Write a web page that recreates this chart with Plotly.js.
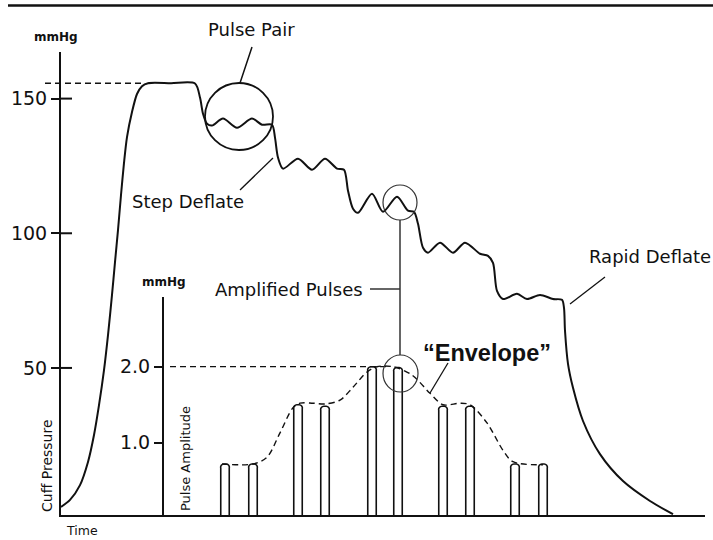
<!DOCTYPE html>
<html>
<head>
<meta charset="utf-8">
<script src="https://cdn.plot.ly/plotly-3.0.1.min.js"></script>
<style>html,body{margin:0;padding:0;background:#fff;}</style>
</head>
<body>
<div id="chart" style="width:713px;height:540px;"></div>
<script>
// ---- Data ----
const time = [0.0, 0.9, 1.9, 2.7, 3.3, 3.8, 4.3, 4.7, 5.1, 5.4, 5.7, 6.0, 6.3, 6.6, 7.1, 7.6, 8.1, 8.7, 11.0, 13.4, 13.9, 14.2, 14.6, 15.1, 16.2, 17.6, 19.1, 20.1, 21.1, 21.4, 21.7, 22.2, 23.7, 25.1, 26.4, 27.6, 28.3, 28.7, 29.2, 29.7, 31.1, 32.2, 33.6, 34.7, 35.3, 35.7, 36.2, 36.7, 37.9, 39.2, 40.4, 41.9, 42.7, 43.2, 43.6, 44.2, 45.6, 46.6, 47.9, 49.2, 50.1, 50.3, 50.4, 50.7, 51.2, 52.2, 53.9, 56.2, 58.9, 61.2];
const cuffPressure = [-1.6, 1.0, 6.5, 15.1, 25.1, 36.2, 49.2, 62.2, 77.1, 89.3, 101.2, 114.2, 126.1, 135.7, 145.0, 151.7, 154.6, 155.7, 155.7, 155.6, 150.4, 144.4, 140.7, 140.0, 142.6, 139.2, 142.6, 140.3, 140.3, 135.5, 128.1, 124.0, 127.7, 123.6, 127.7, 124.0, 123.6, 115.8, 109.1, 107.6, 114.7, 108.0, 113.6, 108.4, 108.0, 103.5, 94.6, 92.8, 96.5, 92.8, 96.5, 92.4, 91.6, 89.0, 78.6, 75.6, 77.5, 75.6, 77.1, 75.6, 75.3, 72.3, 63.8, 51.5, 42.6, 30.3, 18.0, 8.0, 0.6, -4.3];

const pulseTime = [16.4, 19.2, 23.7, 26.4, 31.1, 33.7, 38.2, 40.9, 45.4, 48.2];
const pulseAmplitude = [0.72, 0.72, 1.50, 1.48, 2.00, 1.99, 1.48, 1.48, 0.72, 0.72];

const envelopeTime = [16.1, 19.2, 20.6, 21.9, 23.2, 23.9, 25.2, 26.4, 27.9, 29.2, 30.6, 31.6, 33.2, 35.1, 36.9, 38.2, 39.9, 40.9, 42.6, 44.2, 45.2, 48.2];
const envelopeAmplitude = [0.72, 0.72, 0.81, 1.13, 1.46, 1.52, 1.52, 1.51, 1.56, 1.73, 1.93, 2.00, 2.00, 1.89, 1.65, 1.50, 1.52, 1.50, 1.26, 0.90, 0.75, 0.71];

const pressureTicks = [50, 100, 150];
const pressureTickLabels = ['50', '100', '150'];
const amplitudeTicks = [1, 2];
const amplitudeTickLabels = ['1.0', '2.0'];

// ---- Layout helpers (pixel -> paper) ----
const L = 61, R = 705, T = 52, B = 515;
const W = R - L, H = B - T;
const px = x => (x - L) / W;
const py = y => (B - y) / H;

const FONT = '"DejaVu Sans", sans-serif';
const INK = '#111';

const plateau = Math.max(...cuffPressure);
const peakAmp = Math.max(...pulseAmplitude);

const traces = [
  {
    type: 'scatter', mode: 'lines', x: time, y: cuffPressure,
    xaxis: 'x', yaxis: 'y',
    line: {color: INK, width: 2, shape: 'spline', smoothing: 0.8},
    hoverinfo: 'skip', showlegend: false, cliponaxis: false
  },
  {
    type: 'bar', x: pulseTime, y: pulseAmplitude, xaxis: 'x', yaxis: 'y2',
    width: 0.85,
    marker: {color: '#fff', line: {color: INK, width: 1.6}, cornerradius: 3.5},
    hoverinfo: 'skip', showlegend: false
  },
  {
    type: 'scatter', mode: 'lines', x: envelopeTime, y: envelopeAmplitude,
    xaxis: 'x', yaxis: 'y2',
    line: {color: INK, width: 1.4, dash: '6px,4px', shape: 'spline', smoothing: 0.9},
    hoverinfo: 'skip', showlegend: false
  }
];

const shapes = [];
// top border rule
shapes.push({type: 'line', xref: 'paper', yref: 'paper', x0: px(8), x1: px(713), y0: py(5.5), y1: py(5.5), line: {color: INK, width: 2.5}});
// plateau dashed reference
shapes.push({type: 'line', xref: 'paper', yref: 'y', x0: px(45), x1: px(145), y0: plateau, y1: plateau, line: {color: INK, width: 1.3, dash: '6px,4px'}});
// inside part of main ticks (ticks cross the axis)
pressureTicks.forEach(v => shapes.push({type: 'line', xref: 'paper', yref: 'y', x0: 0, x1: px(72), y0: v, y1: v, line: {color: INK, width: 2}}));
// dashed line at peak amplitude
shapes.push({type: 'line', xref: 'paper', yref: 'y2', x0: px(170), x1: px(390), y0: peakAmp, y1: peakAmp, line: {color: INK, width: 1.3, dash: '6px,4px'}});
// circles
shapes.push({type: 'circle', xref: 'paper', yref: 'paper', x0: px(205), x1: px(273), y0: py(150), y1: py(83), line: {color: INK, width: 1.8}});
shapes.push({type: 'circle', xref: 'paper', yref: 'paper', x0: px(383), x1: px(417), y0: py(220), y1: py(185), line: {color: '#333', width: 1.2}});
shapes.push({type: 'circle', xref: 'paper', yref: 'paper', x0: px(383), x1: px(418), y0: py(392), y1: py(355), line: {color: '#333', width: 1.2}});
// connector between circles + Amplified Pulses leader
shapes.push({type: 'line', xref: 'paper', yref: 'paper', x0: px(400), x1: px(400), y0: py(220), y1: py(355), line: {color: '#333', width: 1.5}});
shapes.push({type: 'line', xref: 'paper', yref: 'paper', x0: px(370), x1: px(400), y0: py(289), y1: py(289), line: {color: '#333', width: 1.5}});
// leaders
shapes.push({type: 'line', xref: 'paper', yref: 'paper', x0: px(252), x1: px(240), y0: py(47), y1: py(83), line: {color: INK, width: 1.5}});
shapes.push({type: 'line', xref: 'paper', yref: 'paper', x0: px(240), x1: px(273), y0: py(190), y1: py(158), line: {color: INK, width: 1.3}});
shapes.push({type: 'line', xref: 'paper', yref: 'paper', x0: px(605), x1: px(570), y0: py(277), y1: py(304), line: {color: INK, width: 1.3}});
shapes.push({type: 'line', xref: 'paper', yref: 'paper', x0: px(448), x1: px(430), y0: py(363), y1: py(393), line: {color: INK, width: 1.3}});

function ann(text, x, y, size, opts) {
  return Object.assign({text: text, xref: 'paper', yref: 'paper', x: px(x), y: py(y),
    xanchor: 'center', yanchor: 'middle', showarrow: false,
    font: {family: FONT, size: size, color: INK}}, opts || {});
}

const annotations = [
  ann('Pulse Pair', 252, 30, 18),
  ann('Step Deflate', 188, 201, 18),
  ann('Amplified Pulses', 289, 289, 18),
  ann('Rapid Deflate', 650, 256, 18),
  ann('\u201CEnvelope\u201D', 487, 353, 23.5, {font: {family: '"Liberation Sans", Arial, sans-serif', size: 23.5, color: INK, weight: 'bold'}}),
  ann('<b>mmHg</b>', 56, 37, 12),
  ann('<b>mmHg</b>', 164, 282, 12),
  ann('Cuff Pressure', 47, 466, 14, {textangle: -90}),
  ann('Pulse Amplitude', 185, 459, 13, {textangle: -90}),
  ann('Time', 82, 530, 12.5)
];

const layout = {
  width: 713, height: 540, autosize: false,
  margin: {l: L, r: 713 - R, t: T, b: 540 - B, pad: 0},
  paper_bgcolor: '#fff', plot_bgcolor: 'rgba(0,0,0,0)',
  font: {family: FONT, color: INK},
  showlegend: false,
  bargap: 0,
  xaxis: {
    range: [0, 64.4], showline: true, linecolor: INK, linewidth: 2,
    showgrid: false, zeroline: false, showticklabels: false, ticks: '',
    fixedrange: true
  },
  yaxis: {
    range: [-4.6, 167.3], showline: true, linecolor: INK, linewidth: 2,
    showgrid: false, zeroline: false,
    ticks: 'outside', ticklen: 8, tickwidth: 2, tickcolor: INK,
    tickvals: pressureTicks, ticktext: pressureTickLabels,
    tickfont: {family: FONT, size: 19, color: INK}, ticklabelstandoff: 0,
    fixedrange: true
  },
  yaxis2: {
    domain: [0, py(297)], anchor: 'free', position: px(163),
    range: [0.049, 2.917], showline: true, linecolor: INK, linewidth: 2,
    showgrid: false, zeroline: false,
    ticks: 'outside', ticklen: 8, tickwidth: 2, tickcolor: INK,
    tickvals: amplitudeTicks, ticktext: amplitudeTickLabels,
    tickfont: {family: FONT, size: 19, color: INK}, ticklabelstandoff: 0,
    fixedrange: true
  },
  shapes: shapes,
  annotations: annotations
};

Plotly.newPlot('chart', traces, layout, {staticPlot: true, displayModeBar: false});
</script>
</body>
</html>
